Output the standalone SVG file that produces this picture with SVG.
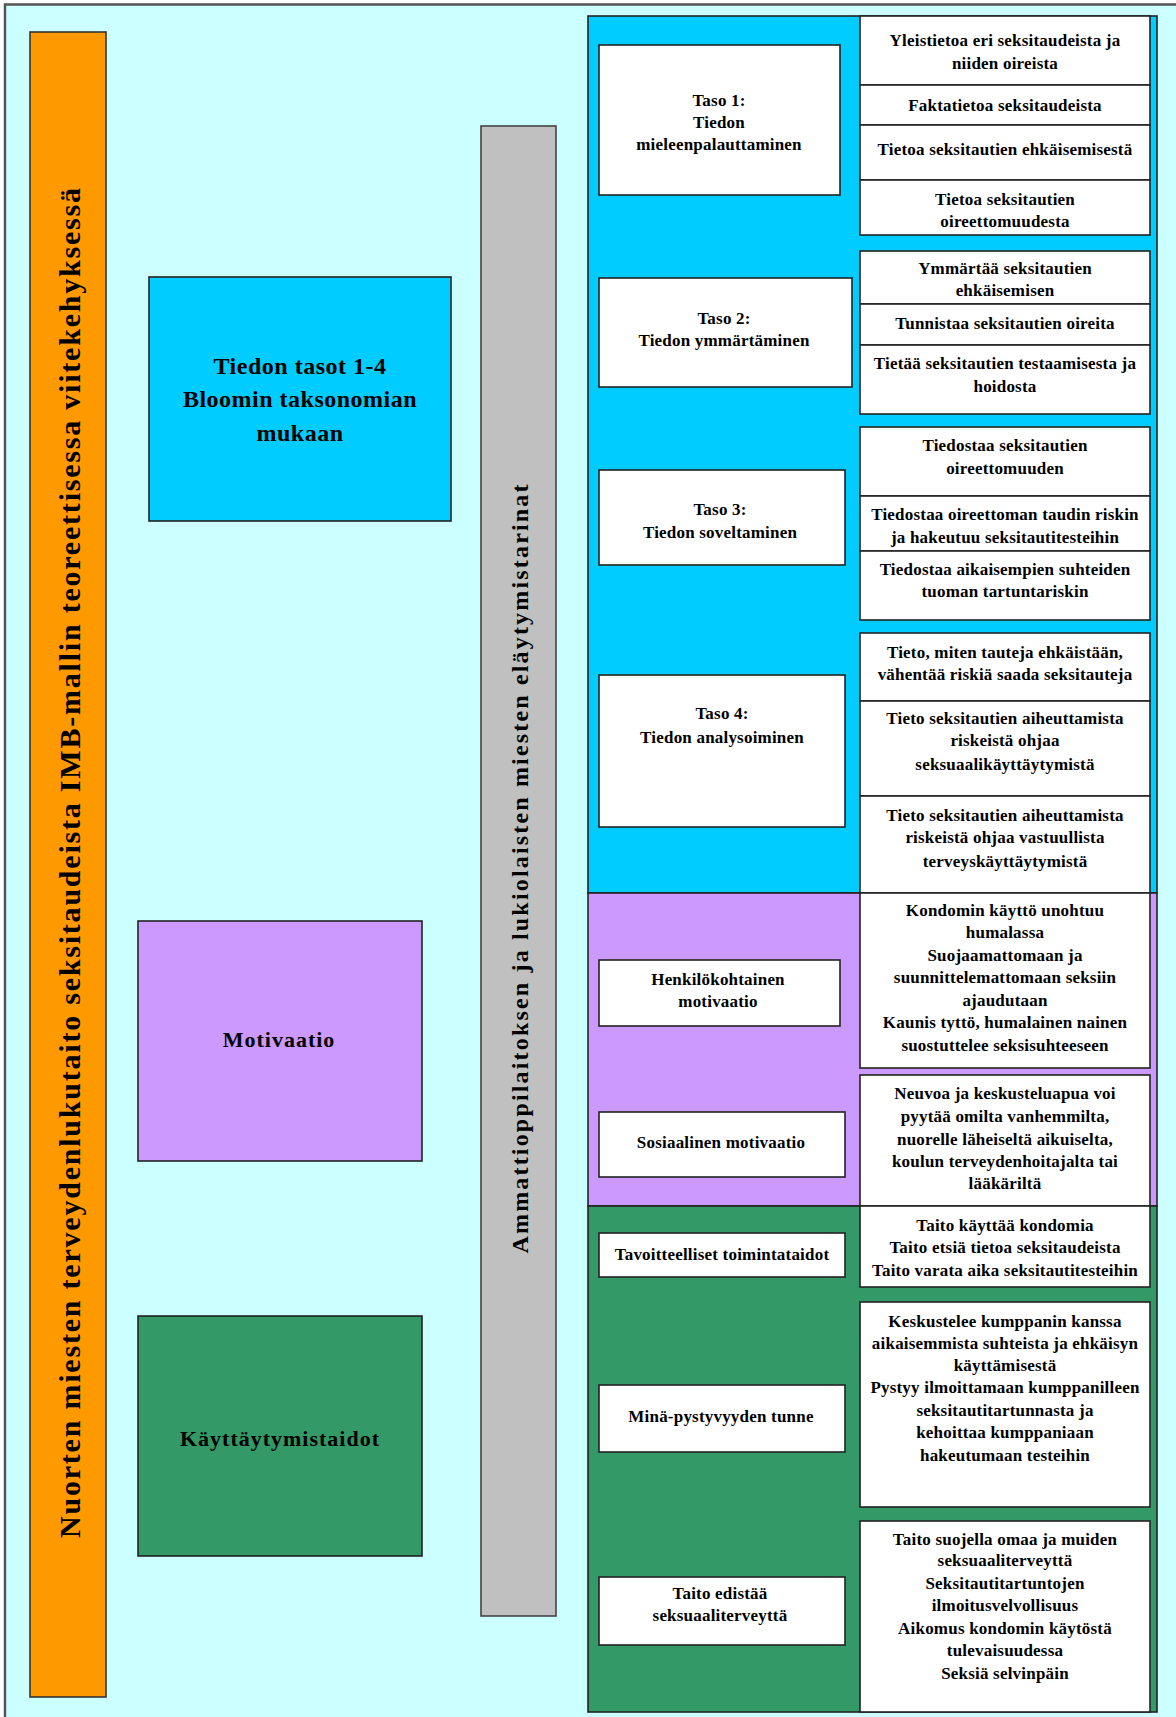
<svg xmlns="http://www.w3.org/2000/svg" width="1176" height="1717" viewBox="0 0 1176 1717">
<style>
  text { font-family: "Liberation Serif", "Times New Roman", serif; font-weight: bold; fill: #000; text-anchor: middle; }
  .s { font-size: 17px; letter-spacing: 0.2px; }
  .big { font-size: 24px; letter-spacing: 0.5px; }
  .mid { font-size: 22px; letter-spacing: 1px; }
  .box { fill: #fff; stroke: #222; stroke-width: 1.6; }
  .frame { fill: #ccffff; stroke: #555; stroke-width: 2.5; }
  .orange { fill: #ff9900; stroke: #333; stroke-width: 1.6; }
  .gray { fill: #c0c0c0; stroke: #444; stroke-width: 1.6; }
  .blue { fill: #00ccff; stroke: #222; stroke-width: 1.6; }
  .purple { fill: #cc99ff; stroke: #222; stroke-width: 1.6; }
  .green { fill: #339966; stroke: #222; stroke-width: 1.6; }
</style>

<!-- background frame -->
<rect class="frame" x="5" y="4.5" width="1180" height="1720"/>

<!-- left title bar -->
<g id="title-bar">
  <rect class="orange" x="30" y="32" width="76" height="1665"/>
  <text transform="translate(80,863) rotate(-90)" style="font-size:30px" textLength="1350" lengthAdjust="spacing">Nuorten miesten terveydenlukutaito seksitaudeista IMB-mallin teoreettisessa viitekehyksessä</text>
</g>

<!-- component boxes -->
<g id="knowledge">
  <rect class="blue" x="149" y="277" width="302" height="244"/>
  <text class="big" x="300" y="374">Tiedon tasot  1-4</text>
  <text class="big" x="300" y="407">Bloomin taksonomian</text>
  <text class="big" x="300" y="441">mukaan</text>
</g>
<g id="motivation">
  <rect class="purple" x="138" y="921" width="284" height="240"/>
  <text class="mid" x="279" y="1047">Motivaatio</text>
</g>
<g id="skills">
  <rect class="green" x="138" y="1316" width="284" height="240"/>
  <text class="mid" x="280" y="1446">Käyttäytymistaidot</text>
</g>

<!-- source bar -->
<g id="source-bar">
  <rect class="gray" x="481" y="126" width="75" height="1490"/>
  <text transform="translate(528,869) rotate(-90)" style="font-size:24px" textLength="769" lengthAdjust="spacing">Ammattioppilaitoksen ja lukiolaisten  miesten  eläytymistarinat</text>
</g>

<!-- section panels -->
<g id="panel-knowledge"><rect class="blue" x="588" y="16" width="569" height="877"/></g>
<g id="panel-motivation"><rect class="purple" x="588" y="893" width="569" height="313"/></g>
<g id="panel-skills"><rect class="green" x="588" y="1206" width="569" height="506"/></g>

<!-- level boxes -->
<g id="taso1">
  <rect class="box" x="599" y="45" width="241" height="150"/>
  <text class="s" x="719" y="106">Taso 1:</text>
  <text class="s" x="719" y="128">Tiedon</text>
  <text class="s" x="719" y="150">mieleenpalauttaminen</text>
</g>
<g id="taso2">
  <rect class="box" x="599" y="278" width="253" height="109"/>
  <text class="s" x="724" y="324">Taso 2:</text>
  <text class="s" x="724" y="346">Tiedon ymmärtäminen</text>
</g>
<g id="taso3">
  <rect class="box" x="599" y="470" width="246" height="95"/>
  <text class="s" x="720" y="515">Taso 3:</text>
  <text class="s" x="720" y="538">Tiedon soveltaminen</text>
</g>
<g id="taso4">
  <rect class="box" x="599" y="675" width="246" height="152"/>
  <text class="s" x="722" y="719">Taso 4:</text>
  <text class="s" x="722" y="743">Tiedon analysoiminen</text>
</g>
<g id="henkilokohtainen">
  <rect class="box" x="599" y="960" width="241" height="66"/>
  <text class="s" x="718" y="985">Henkilökohtainen</text>
  <text class="s" x="718" y="1007">motivaatio</text>
</g>
<g id="sosiaalinen">
  <rect class="box" x="599" y="1112" width="246" height="65"/>
  <text class="s" x="721" y="1148">Sosiaalinen motivaatio</text>
</g>
<g id="tavoitteelliset">
  <rect class="box" x="599" y="1233" width="246" height="44"/>
  <text class="s" x="722" y="1260">Tavoitteelliset toimintataidot</text>
</g>
<g id="mina">
  <rect class="box" x="599" y="1385" width="246" height="67"/>
  <text class="s" x="721" y="1422">Minä-pystyvyyden tunne</text>
</g>
<g id="taito-edistaa">
  <rect class="box" x="599" y="1577" width="246" height="68"/>
  <text class="s" x="720" y="1599">Taito edistää</text>
  <text class="s" x="720" y="1621">seksuaaliterveyttä</text>
</g>

<!-- detail boxes -->
<g id="d1">
  <rect class="box" x="860" y="16" width="290" height="69"/>
  <text class="s" x="1005" y="46">Yleistietoa eri seksitaudeista ja</text>
  <text class="s" x="1005" y="69">niiden oireista</text>
</g>
<g id="d2">
  <rect class="box" x="860" y="85" width="290" height="40"/>
  <text class="s" x="1005" y="111">Faktatietoa seksitaudeista</text>
</g>
<g id="d3">
  <rect class="box" x="860" y="125" width="290" height="55"/>
  <text class="s" x="1005" y="155">Tietoa seksitautien ehkäisemisestä</text>
</g>
<g id="d4">
  <rect class="box" x="860" y="180" width="290" height="55"/>
  <text class="s" x="1005" y="205">Tietoa seksitautien</text>
  <text class="s" x="1005" y="227">oireettomuudesta</text>
</g>
<g id="d5">
  <rect class="box" x="860" y="251" width="290" height="53"/>
  <text class="s" x="1005" y="274">Ymmärtää seksitautien</text>
  <text class="s" x="1005" y="296">ehkäisemisen</text>
</g>
<g id="d6">
  <rect class="box" x="860" y="304" width="290" height="41"/>
  <text class="s" x="1005" y="329">Tunnistaa seksitautien oireita</text>
</g>
<g id="d7">
  <rect class="box" x="860" y="345" width="290" height="69"/>
  <text class="s" x="1005" y="369">Tietää seksitautien testaamisesta ja</text>
  <text class="s" x="1005" y="392">hoidosta</text>
</g>
<g id="d8">
  <rect class="box" x="860" y="427" width="290" height="69"/>
  <text class="s" x="1005" y="451">Tiedostaa seksitautien</text>
  <text class="s" x="1005" y="474">oireettomuuden</text>
</g>
<g id="d9">
  <rect class="box" x="860" y="496" width="290" height="55"/>
  <text class="s" x="1005" y="520">Tiedostaa oireettoman taudin riskin</text>
  <text class="s" x="1005" y="543">ja hakeutuu seksitautitesteihin</text>
</g>
<g id="d10">
  <rect class="box" x="860" y="551" width="290" height="69"/>
  <text class="s" x="1005" y="575">Tiedostaa aikaisempien suhteiden</text>
  <text class="s" x="1005" y="597">tuoman tartuntariskin</text>
</g>
<g id="d11">
  <rect class="box" x="860" y="633" width="290" height="68"/>
  <text class="s" x="1005" y="658">Tieto, miten tauteja ehkäistään,</text>
  <text class="s" x="1005" y="680">vähentää riskiä saada seksitauteja</text>
</g>
<g id="d12">
  <rect class="box" x="860" y="701" width="290" height="95"/>
  <text class="s" x="1005" y="724">Tieto seksitautien aiheuttamista</text>
  <text class="s" x="1005" y="746">riskeistä ohjaa</text>
  <text class="s" x="1005" y="770">seksuaalikäyttäytymistä</text>
</g>
<g id="d13">
  <rect class="box" x="860" y="796" width="290" height="97"/>
  <text class="s" x="1005" y="821">Tieto seksitautien aiheuttamista</text>
  <text class="s" x="1005" y="843">riskeistä ohjaa vastuullista</text>
  <text class="s" x="1005" y="867">terveyskäyttäytymistä</text>
</g>
<g id="d14">
  <rect class="box" x="860" y="893" width="290" height="175"/>
  <text class="s" x="1005" y="916">Kondomin käyttö unohtuu</text>
  <text class="s" x="1005" y="938">humalassa</text>
  <text class="s" x="1005" y="961">Suojaamattomaan ja</text>
  <text class="s" x="1005" y="983">suunnittelemattomaan seksiin</text>
  <text class="s" x="1005" y="1006">ajaudutaan</text>
  <text class="s" x="1005" y="1028">Kaunis tyttö, humalainen nainen</text>
  <text class="s" x="1005" y="1051">suostuttelee seksisuhteeseen</text>
</g>
<g id="d15">
  <rect class="box" x="860" y="1075" width="290" height="131"/>
  <text class="s" x="1005" y="1099">Neuvoa ja keskusteluapua voi</text>
  <text class="s" x="1005" y="1122">pyytää omilta vanhemmilta,</text>
  <text class="s" x="1005" y="1145">nuorelle läheiseltä aikuiselta,</text>
  <text class="s" x="1005" y="1167">koulun terveydenhoitajalta tai</text>
  <text class="s" x="1005" y="1189">lääkäriltä</text>
</g>
<g id="d16">
  <rect class="box" x="860" y="1206" width="290" height="81"/>
  <text class="s" x="1005" y="1231">Taito käyttää kondomia</text>
  <text class="s" x="1005" y="1253">Taito etsiä tietoa seksitaudeista</text>
  <text class="s" x="1005" y="1276">Taito varata aika seksitautitesteihin</text>
</g>
<g id="d17">
  <rect class="box" x="860" y="1302" width="290" height="205"/>
  <text class="s" x="1005" y="1327">Keskustelee kumppanin kanssa</text>
  <text class="s" x="1005" y="1349">aikaisemmista suhteista ja ehkäisyn</text>
  <text class="s" x="1005" y="1371">käyttämisestä</text>
  <text class="s" x="1005" y="1393">Pystyy ilmoittamaan kumppanilleen</text>
  <text class="s" x="1005" y="1416">seksitautitartunnasta ja</text>
  <text class="s" x="1005" y="1438">kehoittaa kumppaniaan</text>
  <text class="s" x="1005" y="1461">hakeutumaan testeihin</text>
</g>
<g id="d18">
  <rect class="box" x="860" y="1521" width="290" height="191"/>
  <text class="s" x="1005" y="1545">Taito suojella omaa ja muiden</text>
  <text class="s" x="1005" y="1566">seksuaaliterveyttä</text>
  <text class="s" x="1005" y="1589">Seksitautitartuntojen</text>
  <text class="s" x="1005" y="1611">ilmoitusvelvollisuus</text>
  <text class="s" x="1005" y="1634">Aikomus kondomin käytöstä</text>
  <text class="s" x="1005" y="1656">tulevaisuudessa</text>
  <text class="s" x="1005" y="1679">Seksiä selvinpäin</text>
</g>

<g id="connectors"/>
</svg>
